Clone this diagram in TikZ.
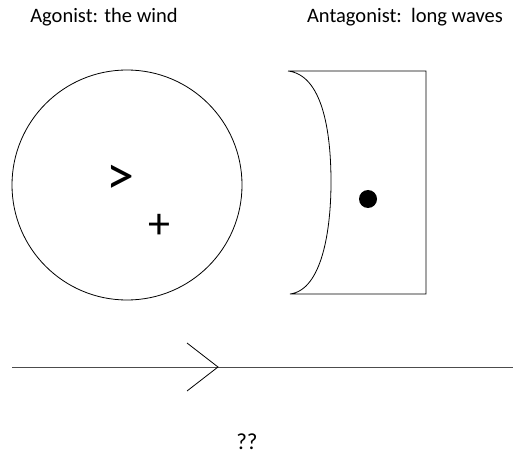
\documentclass[tikz,border=0pt]{standalone}
\usepackage{fontspec}
\setmainfont{Carlito}
\begin{document}
\begin{tikzpicture}[x=1pt,y=-1pt,
  lbl/.style={font=\fontsize{20.5}{24}\selectfont, inner sep=0pt},
  sym/.style={font=\fontsize{56}{60}\selectfont, inner sep=0pt},
  shape line/.style={draw=black, line width=0.8pt}]
\useasboundingbox (0,0) rectangle (513,454);
\node[lbl] (ag) at (104,17) {Agonist: the wind};
\node[lbl] (ant) at (405,17) {Antagonist:\ \ long waves};
\node[shape line, circle, minimum size=230pt, inner sep=0pt] (agc) at (127,185) {};
\node[sym] (gt) at (120,180) {>};
\node[sym, font=\fontsize{44}{48}\selectfont] (plus) at (159.5,226) {+};
\draw[shape line] (288,71) -- (426,71) -- (426,294) -- (290,294)
  .. controls (322,290) and (331,230) .. (331,182)
  .. controls (331,130) and (322,75) .. (288,71);
\fill (368,199) circle (9pt) coordinate (dot);
\coordinate (l0) at (12,367);
\coordinate (l1) at (513,367);
\coordinate (tip) at (218,367);
\coordinate (a1) at (187,343);
\coordinate (a2) at (187,391);
\draw[shape line, draw=black!70] (l0) -- (l1);
\draw[shape line] (a1) -- (tip) -- (a2);
\node[lbl, font=\fontsize{23}{26}\selectfont] (q) at (247,442) {??};
\end{tikzpicture}
\end{document}
